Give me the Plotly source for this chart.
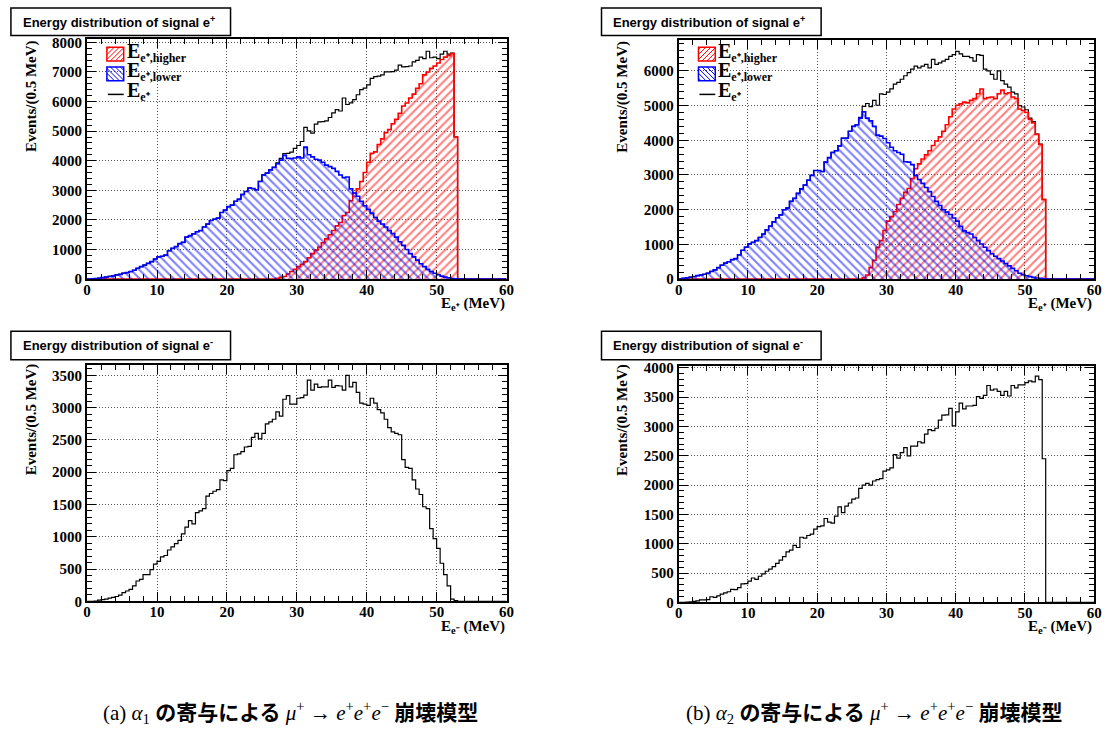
import numpy as np
import plotly.graph_objects as go

W, H = 1117, 740
BIN_WIDTH = 0.5
N_BINS = 120  # 0 .. 60 MeV

# ---------------- data (counts per 0.5 MeV bin, starting at 0 MeV) ----------------
a_lower = [0, 10, 20, 30, 50, 70, 90, 110, 140, 160, 200, 220, 255, 300, 365, 420, 475, 530, 590, 680,
           750, 770, 810, 960, 1040, 1100, 1200, 1240, 1420, 1470, 1530, 1600, 1640, 1760, 1860, 1980,
           2025, 2060, 2250, 2330, 2450, 2500, 2630, 2700, 2860, 2960, 3080, 3060, 3020, 3300, 3520, 3580,
           3690, 3780, 3900, 4020, 4180, 4080, 4070, 4090, 4130, 4090, 4460, 4200, 4130, 4050, 4020, 3950,
           3850, 3800, 3740, 3640, 3520, 3430, 3450, 3050, 2910, 2800, 2630, 2480, 2360, 2230, 2080, 1960,
           1860, 1760, 1640, 1540, 1420, 1260, 1140, 1000, 860, 750, 640, 520, 420, 330, 255, 200, 145,
           100, 66, 40, 22, 10]
a_higher = [0] * 54 + [30, 60, 90, 170, 255, 330, 420, 500, 590, 720, 860, 980, 1085, 1230, 1360, 1500,
                       1640, 1800, 1915, 2150, 2250, 2650, 2900, 3050, 3300, 3600, 3950, 4250, 4300, 4550,
                       4740, 4950, 5050, 5250, 5400, 5600, 5850, 5950, 6120, 6250, 6450, 6600, 6900, 7000,
                       7120, 7200, 7300, 7420, 7500, 7550, 7620, 4800]
a_total = [0, 10, 20, 30, 50, 70, 90, 110, 140, 160, 200, 220, 255, 300, 365, 420, 475, 530, 590, 680,
           750, 770, 810, 960, 1040, 1100, 1200, 1240, 1420, 1470, 1530, 1600, 1640, 1760, 1860, 1980,
           2025, 2060, 2250, 2330, 2450, 2500, 2630, 2700, 2860, 2960, 3080, 3060, 3020, 3300, 3520, 3580,
           3690, 3780, 3930, 4080, 4240, 4250, 4290, 4420, 4515, 4650, 5125, 5010, 4935, 5235, 5310, 5320,
           5345, 5460, 5620, 5730, 5680, 6120, 5900, 5955, 6065, 6230, 6400, 6450, 6560, 6785, 6840, 6860,
           6900, 7000, 7000, 7010, 7060, 7230, 7170, 7180, 7200, 7340, 7390, 7500, 7450, 7700, 7480, 7500,
           7450, 7600, 7700, 7600, 7640, 4810]

b_lower = [0, 20, 40, 55, 75, 100, 120, 140, 170, 220, 265, 330, 400, 460, 500, 560, 590, 700, 830, 920,
           1015, 1060, 1110, 1200, 1300, 1420, 1530, 1650, 1770, 1850, 2000, 2050, 2240, 2330, 2470, 2600,
           2710, 2850, 2990, 3130, 3130, 3100, 3370, 3500, 3650, 3700, 3840, 4060, 4060, 4260, 4400, 4450,
           4640, 4820, 4640, 4560, 4400, 4150, 4120, 4050, 3930, 3800, 3700, 3650, 3600, 3380, 3370, 3300,
           2990, 2870, 2760, 2640, 2520, 2380, 2240, 2120, 2000, 1930, 1860, 1760, 1670, 1520, 1390, 1340,
           1300, 1200, 1110, 1010, 920, 820, 730, 660, 590, 520, 450, 380, 310, 240, 170, 130, 95, 70, 50,
           30, 20, 10]
b_higher = [0] * 53 + [40, 120, 330, 545, 920, 1110, 1400, 1670, 1800, 1950, 2150, 2330, 2500, 2610, 2900,
                       3180, 3320, 3460, 3580, 3700, 3850, 3980, 4100, 4260, 4450, 4680, 4900, 5010, 5050,
                       5100, 5080, 5150, 5200, 5340, 5480, 5200, 5230, 5250, 5200, 5340, 5450, 5340, 5370,
                       5250, 5200, 4900, 4860, 4800, 4600, 4500, 4170, 3880, 2290]
b_total = [0, 20, 40, 55, 75, 100, 120, 140, 170, 220, 265, 330, 400, 460, 500, 560, 590, 700, 830, 920,
           1015, 1060, 1110, 1200, 1300, 1420, 1530, 1650, 1770, 1850, 2000, 2050, 2240, 2330, 2470, 2600,
           2710, 2850, 2990, 3130, 3130, 3100, 3370, 3500, 3650, 3700, 3840, 4060, 4060, 4260, 4400, 4450,
           4660, 4980, 5060, 4970, 5150, 5010, 5340, 5320, 5390, 5480, 5620, 5670, 5760, 5860, 5950, 6050,
           6140, 6090, 6140, 6190, 6090, 6330, 6190, 6230, 6280, 6330, 6420, 6470, 6560, 6490, 6420, 6420,
           6380, 6280, 6470, 6450, 6050, 6000, 5900, 5760, 6000, 5720, 5620, 5530, 5390, 5340, 5000, 4960,
           4880, 4640, 4540, 4180, 3890, 2300]

a_electron = [0, 0, 5, 20, 25, 35, 50, 60, 75, 95, 135, 160, 185, 240, 315, 340, 415, 415, 490, 575, 620,
              690, 710, 795, 845, 895, 945, 1045, 1150, 1250, 1200, 1375, 1400, 1435, 1630, 1670, 1705,
              1730, 1880, 1870, 2025, 2060, 2270, 2285, 2320, 2390, 2400, 2540, 2600, 2515, 2600, 2750,
              2780, 2820, 2935, 2870, 3130, 3185, 3055, 3055, 3145, 3155, 3195, 3425, 3270, 3365, 3315,
              3320, 3320, 3425, 3315, 3340, 3335, 3270, 3500, 3320, 3390, 3235, 3070, 3055, 3035, 3145,
              3070, 2970, 2920, 2820, 2690, 2625, 2600, 2580, 2195, 2075, 2060, 1880, 1740, 1655, 1465,
              1435, 1125, 970, 820, 590, 415, 240, 35, 10]
b_electron = [0, 0, 5, 10, 15, 25, 40, 40, 45, 95, 85, 110, 140, 160, 180, 220, 215, 250, 315, 320, 360,
              415, 390, 445, 485, 530, 565, 610, 665, 720, 780, 860, 890, 970, 935, 1110, 1095, 1140, 1165,
              1250, 1290, 1305, 1430, 1370, 1350, 1470, 1630, 1530, 1640, 1695, 1760, 1780, 1945, 2000,
              2030, 2000, 2070, 2095, 2110, 2240, 2260, 2295, 2520, 2460, 2555, 2640, 2500, 2665, 2665,
              2740, 2720, 2870, 2945, 2930, 2970, 3110, 3195, 3200, 3310, 3010, 3250, 3400, 3300, 3350,
              3350, 3360, 3510, 3480, 3530, 3700, 3620, 3640, 3600, 3530, 3600, 3520, 3700, 3660, 3710,
              3710, 3750, 3780, 3760, 3860, 3800, 2450]

# texts
title_pos = "Energy distribution of signal e<sup>+</sup>"
title_neg = "Energy distribution of signal e<sup>-</sup>"
ytitle = "<b>Events/(0.5 MeV)</b>"
xtitle_pos = "<b>E<sub>e⁺</sub> (MeV)</b>"
xtitle_neg = "<b>E<sub>e⁻</sub> (MeV)</b>"
SUBSPAN = "<span style='font-size:12px'>{}</span>"
legend_names = ["<b>E<sub>" + SUBSPAN.format("e⁺,higher") + "</sub></b>",
                "<b>E<sub>" + SUBSPAN.format("e⁺,lower") + "</sub></b>",
                "<b>E<sub>" + SUBSPAN.format("e⁺") + "</sub></b>"]
caption_a = ("(a) <i>α</i><sub>1</sub> <b>の寄与による</b> <i>μ</i><sup>+</sup> → "
             "<i>e</i><sup>+</sup><i>e</i><sup>+</sup><i>e</i><sup>−</sup> <b>崩壊模型</b>")
caption_b = ("(b) <i>α</i><sub>2</sub> <b>の寄与による</b> <i>μ</i><sup>+</sup> → "
             "<i>e</i><sup>+</sup><i>e</i><sup>+</sup><i>e</i><sup>−</sup> <b>崩壊模型</b>")

RED, BLUE = "#ff0000", "#0000ff"
SERIF = "Liberation Serif"
SANS = "Liberation Sans"

# ---------------- helpers ----------------
edges = np.arange(N_BINS + 1) * BIN_WIDTH


def step_y(counts):
    c = list(counts) + [0] * (N_BINS - len(counts))
    return c + [c[-1]]


def px_x(p):
    return p / W


def px_y(p):
    return 1 - p / H


fig = go.Figure()

# panels: (axis suffix, x0, x1, ytop, ybottom, ymax, ydtick, yminor)
panels = [
    ("", 84, 508, 35, 279, 8100, 1000, 200),
    ("2", 682, 1102, 36, 279, 6880, 1000, 200),
    ("3", 84, 508, 366, 607, 3667, 500, 100),
    ("4", 682, 1102, 367, 608, 4040, 500, 100),
]

tickfont = dict(family=SERIF, size=15, color="black", weight="bold")
for ax, x0, x1, yt, yb, ymax, dt, mn in panels:
    common = dict(showline=True, linewidth=2, linecolor="black", mirror="allticks",
                  ticks="inside", ticklen=9, tickwidth=1, tickcolor="black",
                  showgrid=True, gridcolor="#555", griddash="1px,2px", gridwidth=1,
                  zeroline=False, tickfont=tickfont, layer="above traces",
                  tickprefix="<b>", ticksuffix="</b>")
    xa = dict(common, domain=[px_x(x0), px_x(x1)], range=[0, 60], dtick=10, tick0=0,
              ticklabelstandoff=-4,
              minor=dict(ticks="inside", ticklen=5, dtick=2, tickcolor="black", showgrid=False),
              anchor="y" + ax)
    ya = dict(common, domain=[px_y(yb), px_y(yt)], range=[0, ymax], dtick=dt, tick0=0,
              minor=dict(ticks="inside", ticklen=5, dtick=mn, tickcolor="black", showgrid=False),
              anchor="x" + ax)
    fig.update_layout(**{"xaxis" + ax: xa, "yaxis" + ax: ya})


def hist(counts, ax, color, width, pattern=None):
    kw = dict(x=edges, y=step_y(counts), mode="lines",
              line=dict(shape="hv", color=color, width=width),
              xaxis="x" + ax, yaxis="y" + ax, showlegend=False, hoverinfo="skip")
    if pattern:
        kw.update(fill="tozeroy", fillcolor="rgba(0,0,0,0)",
                  fillpattern=dict(shape=pattern, fgcolor=color, bgcolor="rgba(0,0,0,0)",
                                   size=6, solidity=0.35, fillmode="overlay"))
    return go.Scatter(**kw)


for ax, lo, hi, tot in [("", a_lower, a_higher, a_total), ("2", b_lower, b_higher, b_total)]:
    fig.add_trace(hist(tot, ax, "black", 1.2))
    fig.add_trace(hist(hi, ax, RED, 1.6, "/"))
    fig.add_trace(hist(lo, ax, BLUE, 1.6, "\\"))

fig.add_trace(hist(a_electron, "3", "black", 1.2))
fig.add_trace(hist(b_electron, "4", "black", 1.2))

shapes = []
annotations = []


def hatch(x0, y0, x1, y1, kind, color, step=5):
    segs = []
    if kind == "/":
        c = x0 + y0 + step / 2
        while c < x1 + y1:
            xa, xb = max(x0, c - y1), min(x1, c - y0)
            if xb > xa:
                segs.append((xa, c - xa, xb, c - xb))
            c += step
    else:
        c = x0 - y1 + step / 2
        while c < x1 - y0:
            xa, xb = max(x0, c + y0), min(x1, c + y1)
            if xb > xa:
                segs.append((xa, xa - c, xb, xb - c))
            c += step
    for xa, ya, xb, yb in segs:
        shapes.append(dict(type="line", xref="paper", yref="paper",
                           x0=px_x(xa), y0=px_y(ya), x1=px_x(xb), y1=px_y(yb),
                           line=dict(color=color, width=1)))


# manual legends (white box hides the grid, as in the reference)
for lx in (84, 682):
    shapes.append(dict(type="rect", xref="paper", yref="paper", layer="between",
                       x0=px_x(lx + 1), x1=px_x(lx + 113), y0=px_y(103), y1=px_y(36),
                       line=dict(width=0), fillcolor="white"))
    sx0, sx1 = lx + 20, lx + 37
    for (yy0, yy1), color, kind in [((43, 57), RED, "/"), ((63, 77), BLUE, "\\")]:
        hatch(sx0, yy0, sx1, yy1, kind, color)
        shapes.append(dict(type="rect", xref="paper", yref="paper",
                           x0=px_x(sx0), x1=px_x(sx1), y0=px_y(yy1), y1=px_y(yy0),
                           line=dict(color=color, width=1.5), fillcolor="rgba(0,0,0,0)"))
    shapes.append(dict(type="line", xref="paper", yref="paper",
                       x0=px_x(sx0 + 1), x1=px_x(sx1), y0=px_y(91), y1=px_y(91),
                       line=dict(color="black", width=1.5)))
    for name, yc in zip(legend_names, (50, 70, 90)):
        annotations.append(dict(xref="paper", yref="paper", x=px_x(sx1 + 1), y=px_y(yc - 2),
                                xanchor="left", yanchor="middle", showarrow=False, text=name,
                                font=dict(family=SERIF, size=20, color="black")))

# title boxes
for x0, x1, y0, y1, txt in [(7, 229, 3, 31, title_pos), (604, 826, 3, 31, title_pos),
                            (7, 229, 332, 361, title_neg), (604, 826, 332, 361, title_neg)]:
    shapes.append(dict(type="rect", xref="paper", yref="paper",
                       x0=px_x(x0), x1=px_x(x1), y0=px_y(y1), y1=px_y(y0),
                       line=dict(color="black", width=1.5), fillcolor="white"))
    annotations.append(dict(xref="paper", yref="paper", x=px_x(x0 + 10), y=px_y((y0 + y1) / 2),
                            xanchor="left", yanchor="middle", showarrow=False, text="<b>" + txt + "</b>",
                            font=dict(family=SANS, size=13, color="black")))

# y titles
for xc, ytop in [(28, 34), (625, 34), (28, 363), (625, 363)]:
    annotations.append(dict(xref="paper", yref="paper", x=px_x(xc), y=px_y(ytop),
                            xanchor="center", yanchor="top", textangle=-90, showarrow=False,
                            text=ytitle, font=dict(family=SERIF, size=15, color="black")))
# x titles
for xr, yc, txt in [(508, 304, xtitle_pos), (1102, 304, xtitle_pos),
                    (508, 633, xtitle_neg), (1102, 633, xtitle_neg)]:
    annotations.append(dict(xref="paper", yref="paper", x=px_x(xr), y=px_y(yc),
                            xanchor="right", yanchor="middle", showarrow=False,
                            text=txt, font=dict(family=SERIF, size=15, color="black")))
# captions
for xc, txt in [(290, caption_a), (879, caption_b)]:
    annotations.append(dict(xref="paper", yref="paper", x=px_x(xc), y=px_y(720),
                            xanchor="center", yanchor="middle", showarrow=False,
                            text=txt, font=dict(family=SERIF + ", Noto Sans CJK JP", size=21,
                                                color="black")))

fig.update_layout(width=W, height=H, margin=dict(l=0, r=0, t=0, b=0),
                  font=dict(family=SERIF, color="black"),
                  paper_bgcolor="white", plot_bgcolor="white",
                  shapes=shapes, annotations=annotations)

fig.write_html("out.html")
